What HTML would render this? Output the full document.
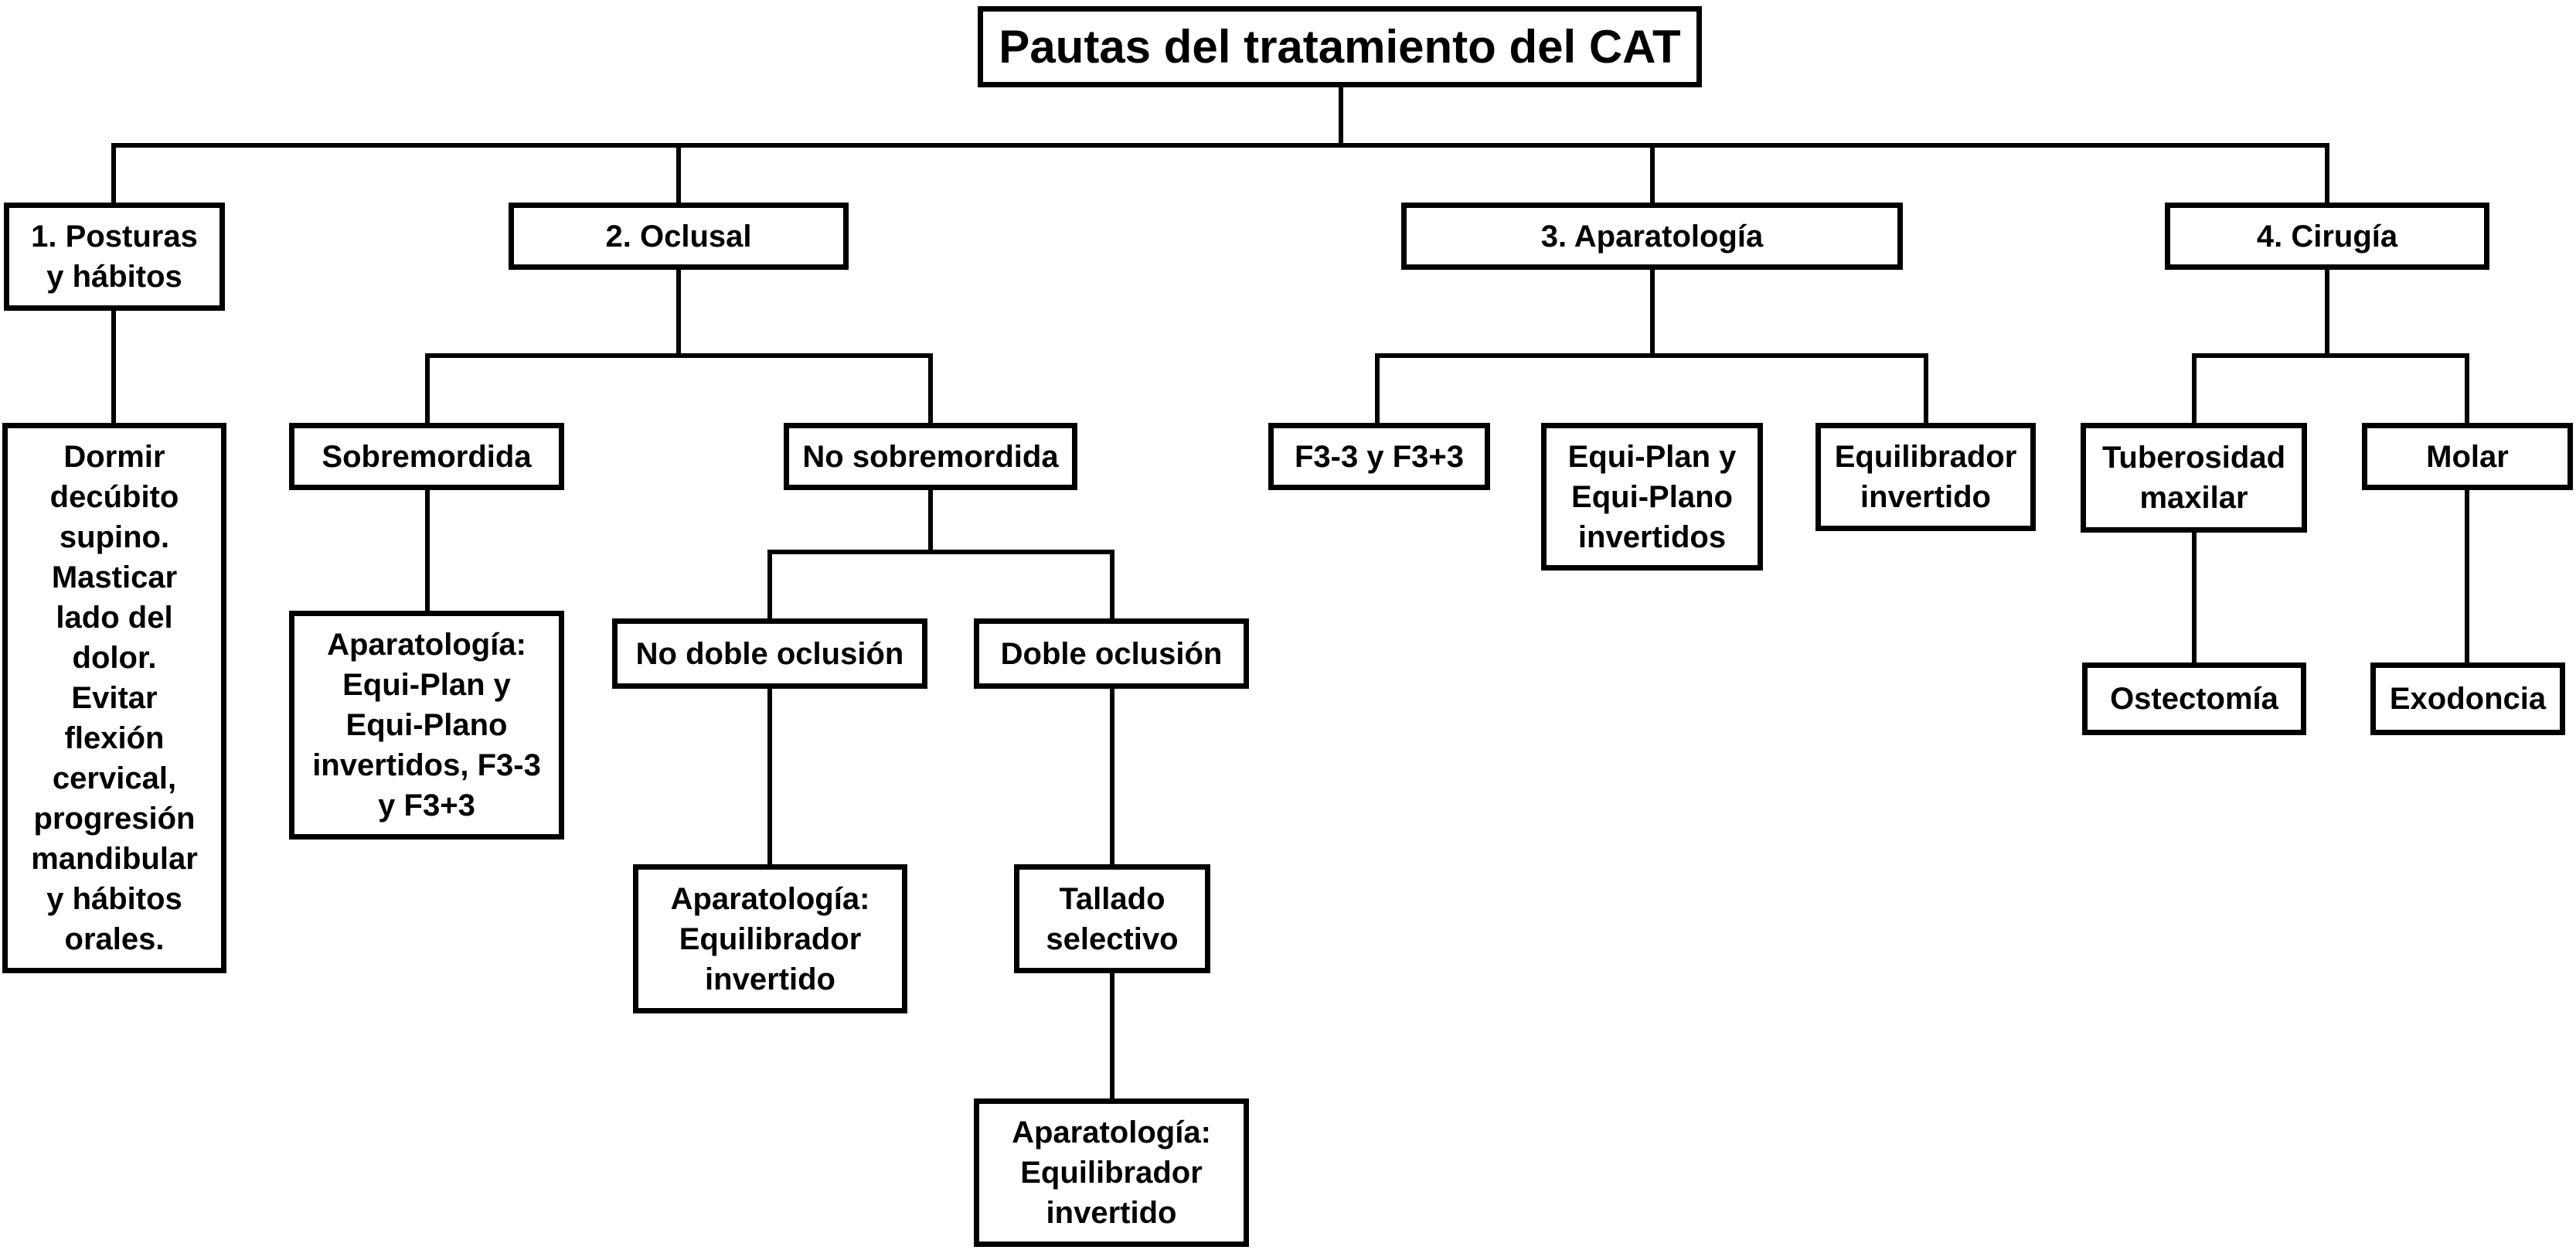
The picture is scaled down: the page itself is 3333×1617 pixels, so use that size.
<!DOCTYPE html>
<html><head><meta charset="utf-8">
<style>
html,body{margin:0;padding:0;background:#fff;}
body{width:3333px;height:1617px;position:relative;overflow:hidden;font-family:"Liberation Sans",Arial,sans-serif;font-weight:bold;color:#000;}
.b{position:absolute;border:7px solid #000;box-sizing:border-box;display:flex;align-items:center;justify-content:center;text-align:center;font-size:40px;line-height:52px;background:#fff;}
.l{position:absolute;background:#000;}
</style></head><body>
<!-- lines -->
<div class="l" style="left:1732px;top:108px;width:6px;height:82px"></div>
<div class="l" style="left:144px;top:185px;width:2870px;height:6px"></div>
<div class="l" style="left:144px;top:185px;width:6px;height:80px"></div>
<div class="l" style="left:875px;top:185px;width:6px;height:80px"></div>
<div class="l" style="left:2135px;top:185px;width:6px;height:80px"></div>
<div class="l" style="left:3008px;top:185px;width:6px;height:80px"></div>
<!-- branch 1 -->
<div class="l" style="left:144px;top:398px;width:6px;height:152px"></div>
<!-- branch 2 -->
<div class="l" style="left:875px;top:346px;width:6px;height:117px"></div>
<div class="l" style="left:550px;top:457px;width:657px;height:6px"></div>
<div class="l" style="left:550px;top:457px;width:6px;height:93px"></div>
<div class="l" style="left:1201px;top:457px;width:6px;height:93px"></div>
<div class="l" style="left:550px;top:632px;width:6px;height:160px"></div>
<div class="l" style="left:1201px;top:632px;width:6px;height:85px"></div>
<div class="l" style="left:993px;top:711px;width:449px;height:6px"></div>
<div class="l" style="left:993px;top:711px;width:6px;height:92px"></div>
<div class="l" style="left:1436px;top:711px;width:6px;height:92px"></div>
<div class="l" style="left:993px;top:889px;width:6px;height:232px"></div>
<div class="l" style="left:1436px;top:889px;width:6px;height:232px"></div>
<div class="l" style="left:1436px;top:1257px;width:6px;height:168px"></div>
<!-- branch 3 -->
<div class="l" style="left:2135px;top:346px;width:6px;height:117px"></div>
<div class="l" style="left:1779px;top:457px;width:716px;height:6px"></div>
<div class="l" style="left:1779px;top:457px;width:6px;height:93px"></div>
<div class="l" style="left:2489px;top:457px;width:6px;height:93px"></div>
<!-- branch 4 -->
<div class="l" style="left:3008px;top:346px;width:6px;height:117px"></div>
<div class="l" style="left:2836px;top:457px;width:359px;height:6px"></div>
<div class="l" style="left:2836px;top:457px;width:6px;height:93px"></div>
<div class="l" style="left:3189px;top:457px;width:6px;height:93px"></div>
<div class="l" style="left:2836px;top:686px;width:6px;height:173px"></div>
<div class="l" style="left:3189px;top:632px;width:6px;height:227px"></div>

<!-- boxes -->
<div class="b" style="left:1265px;top:8px;width:937px;height:105px;font-size:60px;line-height:60px">Pautas del tratamiento del CAT</div>

<div class="b" style="left:5px;top:262px;width:286px;height:140px">1. Posturas<br>y hábitos</div>
<div class="b" style="left:658px;top:262px;width:440px;height:87px">2. Oclusal</div>
<div class="b" style="left:1813px;top:262px;width:649px;height:87px">3. Aparatología</div>
<div class="b" style="left:2801px;top:262px;width:420px;height:87px">4. Cirugía</div>

<div class="b" style="left:3px;top:547px;width:290px;height:712px">Dormir<br>decúbito<br>supino.<br>Masticar<br>lado del<br>dolor.<br>Evitar<br>flexión<br>cervical,<br>progresión<br>mandibular<br>y hábitos<br>orales.</div>
<div class="b" style="left:374px;top:547px;width:356px;height:87px">Sobremordida</div>
<div class="b" style="left:1014px;top:547px;width:380px;height:87px">No sobremordida</div>
<div class="b" style="left:374px;top:790px;width:356px;height:296px">Aparatología:<br>Equi-Plan y<br>Equi-Plano<br>invertidos, F3-3<br>y F3+3</div>
<div class="b" style="left:792px;top:800px;width:408px;height:91px">No doble oclusión</div>
<div class="b" style="left:1260px;top:800px;width:356px;height:91px">Doble oclusión</div>
<div class="b" style="left:819px;top:1118px;width:355px;height:193px">Aparatología:<br>Equilibrador<br>invertido</div>
<div class="b" style="left:1312px;top:1118px;width:254px;height:141px">Tallado<br>selectivo</div>
<div class="b" style="left:1260px;top:1421px;width:356px;height:192px">Aparatología:<br>Equilibrador<br>invertido</div>

<div class="b" style="left:1641px;top:547px;width:287px;height:87px">F3-3 y F3+3</div>
<div class="b" style="left:1994px;top:547px;width:287px;height:191px">Equi-Plan y<br>Equi-Plano<br>invertidos</div>
<div class="b" style="left:2349px;top:547px;width:285px;height:140px">Equilibrador<br>invertido</div>

<div class="b" style="left:2692px;top:547px;width:293px;height:142px">Tuberosidad<br>maxilar</div>
<div class="b" style="left:3056px;top:547px;width:273px;height:87px">Molar</div>
<div class="b" style="left:2694px;top:857px;width:290px;height:94px">Ostectomía</div>
<div class="b" style="left:3067px;top:857px;width:252px;height:94px">Exodoncia</div>
</body></html>
